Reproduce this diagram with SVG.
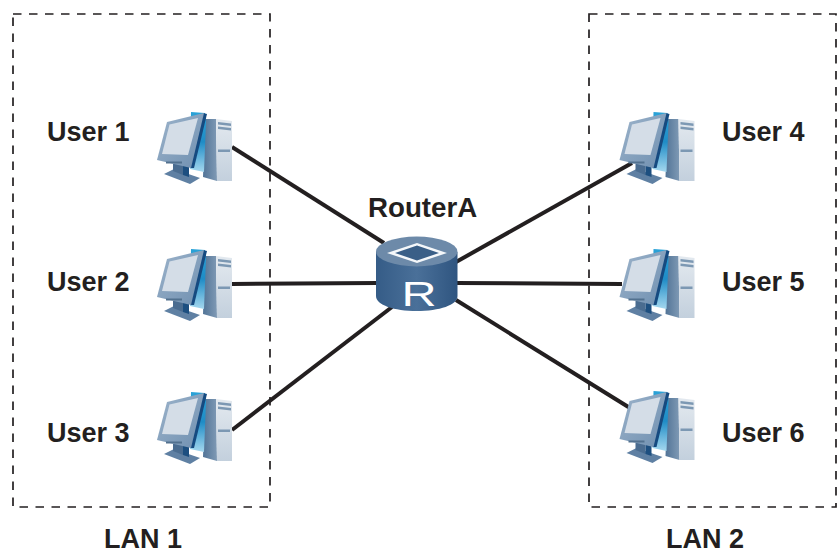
<svg xmlns="http://www.w3.org/2000/svg" width="837" height="551" viewBox="0 0 837 551">
<style>
text{font-family:"Liberation Sans",Arial,sans-serif;font-weight:700;font-size:27px;fill:#231f20}
.lan{fill:none;stroke:#231f20;stroke-width:1.7;stroke-dasharray:8.500 7.500}
.link{stroke:#231f20;stroke-width:4;fill:none}
</style>
<defs>
<linearGradient id="blue" x1="0" y1="0" x2="0" y2="1"><stop offset="0" stop-color="#2aa3d8"/><stop offset=".5" stop-color="#1f8cc6"/><stop offset="1" stop-color="#a5d8ef"/></linearGradient>
<linearGradient id="tw" x1="0" y1="0" x2="0" y2="1"><stop offset="0" stop-color="#e3e9ef"/><stop offset="1" stop-color="#c3d0dd"/></linearGradient>
<linearGradient id="side" x1="0" y1="0" x2="1" y2="0"><stop offset="0" stop-color="#527497"/><stop offset="1" stop-color="#7f9ab5"/></linearGradient>
<linearGradient id="bez" x1="0" y1="0" x2="1" y2="1"><stop offset="0" stop-color="#9db4cb"/><stop offset="1" stop-color="#6f8fb0"/></linearGradient>
<linearGradient id="rt" x1="0" y1="0" x2="1" y2="0"><stop offset="0" stop-color="#355c87"/><stop offset=".5" stop-color="#4a7099"/><stop offset="1" stop-color="#2f5580"/></linearGradient>
<symbol id="pc" width="100" height="90" viewBox="0 0 100 90" overflow="visible">
<path d="M19 74 29 69 55 78 45 84Z" fill="#5f80a3"/>
<path d="M28 64H38V75L28 71Z" fill="#4a6c90"/><path d="M38 66h6v11l-6-2Z" fill="#1d4f80"/>
<path d="M60 19 71 19 72 81 58 77Z" fill="url(#side)"/>
<path d="M71 19 87 21 87 81 72 81Z" fill="url(#tw)"/>
<path d="M73 22 86 23.500V26L73 24.500ZM73 26.500 86 28V30.500L73 29ZM73 49.500 85 49.500V52L73 52Z" fill="#7c98b3"/>
<path d="M46 12 60 13 61 22 59 72 45 69Z" fill="url(#blue)"/>
<path d="M58 13 62 14 49 68 45 68Z" fill="#164a80"/>
<path d="M22 22 59 13 46 68 12 60Z" fill="url(#bez)"/>
<path d="M24.500 24.500 53 18 43 55 17 54Z" fill="#d4dde7"/>
<path d="M21 61.500h16v2H21Z" fill="#52718f"/>
</symbol>
</defs>
<rect class="lan" x="13" y="14" width="257" height="493"/>
<rect class="lan" x="589" y="14" width="247" height="493"/>
<g id="connectors">
<line class="link" x1="232" y1="147" x2="384" y2="243"/>
<line class="link" x1="232" y1="284" x2="378" y2="283"/>
<line class="link" x1="232" y1="430" x2="392" y2="307"/>
<line class="link" x1="456" y1="262" x2="632" y2="163"/>
<line class="link" x1="456" y1="283" x2="622" y2="284"/>
<line class="link" x1="456" y1="300" x2="630" y2="408"/>
</g>
<g id="user1"><use href="#pc" x="145" y="100"/><text x="47" y="141">User 1</text></g>
<g id="user2"><use href="#pc" x="145" y="237"/><text x="47" y="291">User 2</text></g>
<g id="user3"><use href="#pc" x="145" y="380"/><text x="47" y="442">User 3</text></g>
<g id="user4"><use href="#pc" x="607.500" y="100"/><text x="722" y="141">User 4</text></g>
<g id="user5"><use href="#pc" x="607.500" y="237"/><text x="722" y="291">User 5</text></g>
<g id="user6"><use href="#pc" x="607.500" y="379"/><text x="722" y="442">User 6</text></g>
<g id="routerA">
<path d="M376 252V296C376 305 394 311 416.700 311S457.500 305 457.500 296V252Z" fill="url(#rt)"/>
<ellipse cx="416.700" cy="251.500" rx="40.700" ry="15" fill="#6d8aa9"/>
<path d="M387 253 417 243 447 253 417 263Z" fill="#f4f7fa"/>
<path d="M395 253 417 245.500 439 253 417 260.500Z" fill="#3a5f87"/>
<text transform="translate(419 305.500) scale(1.35 1)" text-anchor="middle" style="font-weight:400;font-size:36px;fill:#fff">R</text>
<text x="368" y="217" style="font-size:27.700px">RouterA</text>
</g>
<g id="lan1"><text x="104" y="548">LAN 1</text></g>
<g id="lan2"><text x="666" y="548">LAN 2</text></g>
</svg>
